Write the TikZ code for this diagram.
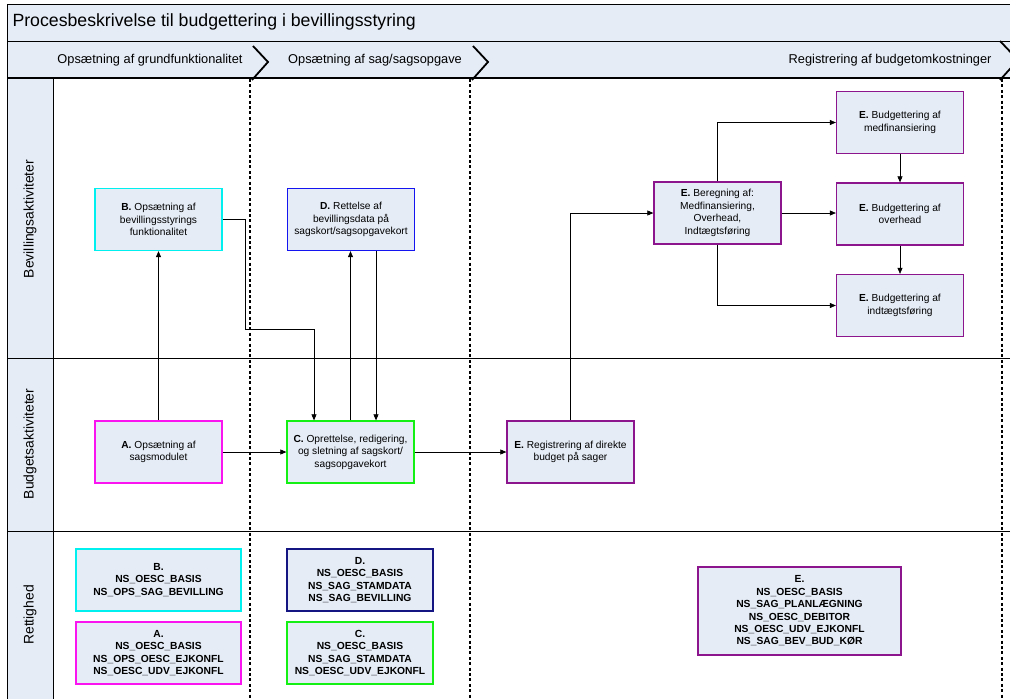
\documentclass[tikz,border=0pt]{standalone}
\usepackage{fontspec}
\setmainfont{Liberation Sans}
\usetikzlibrary{arrows.meta}
\definecolor{lanefill}{RGB}{229,236,246}
\definecolor{cyanline}{RGB}{0,240,240}
\definecolor{blueline}{RGB}{20,20,240}
\definecolor{navyline}{RGB}{20,20,130}
\definecolor{pinkline}{RGB}{250,20,240}
\definecolor{greenline}{RGB}{20,240,20}
\definecolor{purpleline}{RGB}{140,20,140}
\begin{document}
\begin{tikzpicture}[x=1pt,y=-1pt,font=\fontsize{10.2}{12.5}\selectfont,
box/.style={draw,fill=lanefill,line width=1.3pt,align=center,inner sep=2pt},
con/.style={-{Triangle[length=6pt,width=5pt]},line width=.6pt},
sepline/.style={line width=2.2pt,dash pattern=on 3pt off 2.4pt},
chev/.style={line width=1.8pt}]
\useasboundingbox (0,0) rectangle (1010,699);
\clip (0,0) rectangle (1010,699);
% title and phases
\filldraw[fill=lanefill,line width=1pt] (7,4) rectangle (1020,41);
\node[anchor=west,font=\fontsize{17.7}{20}\selectfont] (title) at (9,22) {Procesbeskrivelse til budgettering i bevillingsstyring};
\filldraw[fill=lanefill,line width=.8pt] (7,41) rectangle (1020,78);
\foreach \x in {253,473}{
\draw[chev] (\x,46)--(\x+15,62)--(\x-1,80);}
\draw[chev] (1000,41)--(1018,60)--(1000,80);
\node (ph1) at (150,60) {\fontsize{12.8}{14}\selectfont Opsætning af grundfunktionalitet};
\node (ph2) at (375,60) {\fontsize{12.8}{14}\selectfont Opsætning af sag/sagsopgave};
\node[anchor=east] (ph3) at (995,60) {\fontsize{12.8}{14}\selectfont Registrering af budgetomkostninger};
% lanes
\filldraw[fill=lanefill,line width=1pt] (7,78) rectangle (53,710);
\draw[line width=1.2pt] (7,78)--(1020,78);
\foreach \y in {358,531}{\draw[line width=1pt] (7,\y)--(1020,\y);}
\foreach \y/\t in {219/Bevillingsaktiviteter,444/Budgetsaktiviteter,615/Rettighed}{
\node[rotate=90,font=\fontsize{13.9}{16}\selectfont] (lane\t) at (30,\y) {\t};}
\foreach \x in {250,470,1002}{\draw[sepline] (\x,79)--(\x,705);}
% activities
\foreach \n/\p/\c/\t in {
B/{158.5,219.5}/cyanline/{\textbf{B.} Opsætning af\\bevillingsstyrings\\funktionalitet},
D/{351,219.5}/blueline/{\textbf{D.} Rettelse af\\bevillingsdata på\\sagskort/sagsopgavekort},
A/{158.5,452}/pinkline/{\textbf{A.} Opsætning af\\sagsmodulet},
C/{350.5,452}/greenline/{\textbf{C.} Oprettelse, redigering,\\og sletning af sagskort/\\sagsopgavekort},
Ereg/{570.5,452}/purpleline/{\textbf{E.} Registrering af direkte\\budget på sager},
Eber/{717.5,213}/purpleline/{\textbf{E.} Beregning af:\\Medfinansiering,\\Overhead,\\Indtægtsføring},
Emed/{900,122.5}/purpleline/{\textbf{E.} Budgettering af\\medfinansiering},
Eov/{900,214}/purpleline/{\textbf{E.} Budgettering af\\overhead},
Eind/{900,305.5}/purpleline/{\textbf{E.} Budgettering af\\indtægtsføring}}{
\node[box,draw=\c,minimum width=127pt,minimum height=62pt] (\n) at (\p) {\t};}
% rights
\foreach \n/\p/\w/\h/\c/\t in {
Bret/{158.5,580}/165/62/cyanline/{B.\\NS\_OESC\_BASIS\\NS\_OPS\_SAG\_BEVILLING},
Aret/{158.5,653}/165/62/pinkline/{A.\\NS\_OESC\_BASIS\\NS\_OPS\_OESC\_EJKONFL\\NS\_OESC\_UDV\_EJKONFL},
Dret/{360,580}/146/62/navyline/{D.\\NS\_OESC\_BASIS\\NS\_SAG\_STAMDATA\\NS\_SAG\_BEVILLING},
Cret/{360,653}/146/62/greenline/{C.\\NS\_OESC\_BASIS\\NS\_SAG\_STAMDATA\\NS\_OESC\_UDV\_EJKONFL},
Eret/{799.5,611}/203/88/purpleline/{E.\\NS\_OESC\_BASIS\\NS\_SAG\_PLANLÆGNING\\NS\_OESC\_DEBITOR\\NS\_OESC\_UDV\_EJKONFL\\NS\_SAG\_BEV\_BUD\_KØR}}{
\node[box,draw=\c,font=\bfseries\fontsize{10.3}{12.4}\selectfont,minimum width=\w pt,minimum height=\h pt] (\n) at (\p) {\t};}
% flows
\draw[con] (A)--(B);
\draw[con] (B.east)--++(23,0)--++(0,110)-|([xshift=-36.5pt]C.north);
\draw[con] (C.north)--(C.north|-D.south);
\draw[con] ([xshift=25pt]D.south)--([xshift=25pt]D.south|-C.north);
\draw[con] (A)--(C);
\draw[con] (C)--(Ereg);
\draw[con] (Ereg)|-(Eber);
\draw[con] (Eber)|-(Emed);
\draw[con] (Eber.east)--(Eber.east-|Eov.west);
\draw[con] (Eber)|-(Eind);
\draw[con] (Emed)--(Eov);
\draw[con] (Eov)--(Eind);
\end{tikzpicture}
\end{document}
